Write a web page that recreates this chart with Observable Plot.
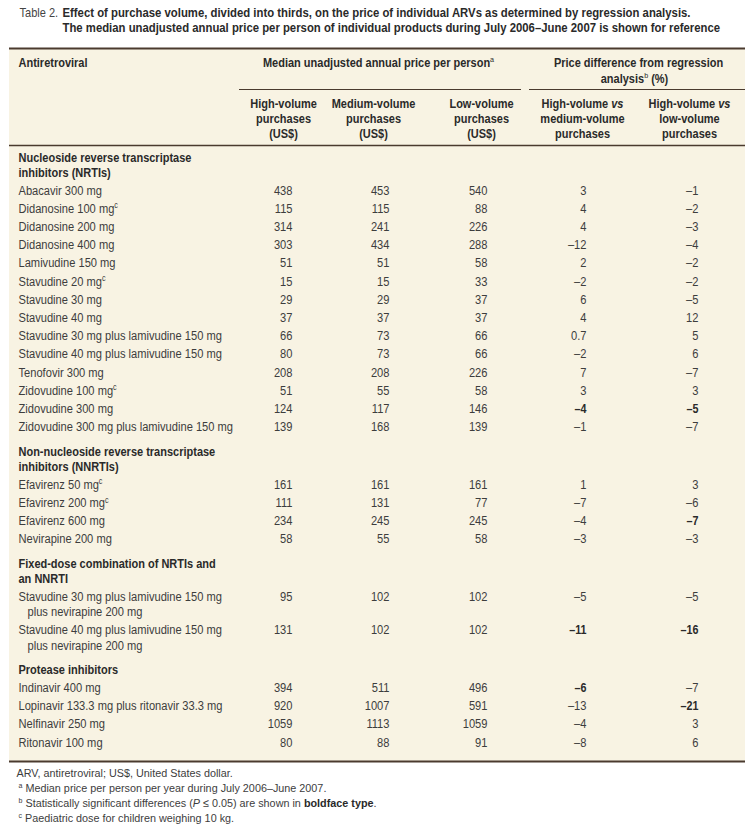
<!DOCTYPE html>
<html>
<head>
<meta charset="utf-8">
<script src="https://cdn.jsdelivr.net/npm/d3@7"></script>
<script src="https://cdn.jsdelivr.net/npm/@observablehq/plot@0.6"></script>
<style>
  html, body { margin: 0; padding: 0; background: #ffffff; }
  svg { display: block; }
</style>
</head>
<body>
<div id="chart"></div>
<script>
// ---------------- DATA ----------------
const tableLabel = "Table 2.";
const titleLines = [
  "Effect of purchase volume, divided into thirds, on the price of individual ARVs as determined by regression analysis.",
  "The median unadjusted annual price per person of individual products during July 2006\u2013June 2007 is shown for reference"
];
const stubHeader = "Antiretroviral";
const groupHeaders = [
  ["Median unadjusted annual price per person^a"],
  ["Price difference from regression", "analysis^b (%)"]
];
const columnHeaders = [
  ["High-volume", "purchases", "(US$)"],
  ["Medium-volume", "purchases", "(US$)"],
  ["Low-volume", "purchases", "(US$)"],
  ["High-volume _vs_", "medium-volume", "purchases"],
  ["High-volume _vs_", "low-volume", "purchases"]
];
const sectionTitles = [
  ["Nucleoside reverse transcriptase", "inhibitors (NRTIs)"],
  ["Non-nucleoside reverse transcriptase", "inhibitors (NNRTIs)"],
  ["Fixed-dose combination of NRTIs and", "an NNRTI"],
  ["Protease inhibitors"]
];
const drugSection = [0,0,0,0,0,0,0,0,0,0,0,0,0,0, 1,1,1,1, 2,2, 3,3,3,3];
const drugNames = [
  ["Abacavir 300 mg"],
  ["Didanosine 100 mg^c"],
  ["Didanosine 200 mg"],
  ["Didanosine 400 mg"],
  ["Lamivudine 150 mg"],
  ["Stavudine 20 mg^c"],
  ["Stavudine 30 mg"],
  ["Stavudine 40 mg"],
  ["Stavudine 30 mg plus lamivudine 150 mg"],
  ["Stavudine 40 mg plus lamivudine 150 mg"],
  ["Tenofovir 300 mg"],
  ["Zidovudine 100 mg^c"],
  ["Zidovudine 300 mg"],
  ["Zidovudine 300 mg plus lamivudine 150 mg"],
  ["Efavirenz 50 mg^c"],
  ["Efavirenz 200 mg^c"],
  ["Efavirenz 600 mg"],
  ["Nevirapine 200 mg"],
  ["Stavudine 30 mg plus lamivudine 150 mg", "plus nevirapine 200 mg"],
  ["Stavudine 40 mg plus lamivudine 150 mg", "plus nevirapine 200 mg"],
  ["Indinavir 400 mg"],
  ["Lopinavir 133.3 mg plus ritonavir 33.3 mg"],
  ["Nelfinavir 250 mg"],
  ["Ritonavir 100 mg"]
];
const highVolumePrice   = [438,115,314,303,51,15,29,37,66,80,208,51,124,139, 161,111,234,58, 95,131, 394,920,1059,80];
const mediumVolumePrice = [453,115,241,434,51,15,29,37,73,73,208,55,117,168, 161,131,245,55, 102,102, 511,1007,1113,88];
const lowVolumePrice    = [540,88,226,288,58,33,37,37,66,66,226,58,146,139, 161,77,245,58, 102,102, 496,591,1059,91];
const diffVsMedium      = [3,4,4,-12,2,-2,6,4,0.7,-2,7,3,-4,-1, 1,-7,-4,-3, -5,-11, -6,-13,-4,-8];
const diffVsLow         = [-1,-2,-3,-4,-2,-2,-5,12,5,6,-7,3,-5,-7, 3,-6,-7,-3, -5,-16, -7,-21,3,6];
const sigVsMedium       = [0,0,0,0,0,0,0,0,0,0,0,0,1,0, 0,0,0,0, 0,1, 1,0,0,0];
const sigVsLow          = [0,0,0,0,0,0,0,0,0,0,0,0,1,0, 0,0,1,0, 0,1, 0,1,0,0];
const notes = [
  "ARV, antiretroviral; US$, United States dollar.",
  "^a Median price per person per year during July 2006\u2013June 2007.",
  "^b Statistically significant differences (_P_ \u2264 0.05) are shown in **boldface type**.",
  "^c Paediatric dose for children weighing 10 kg."
];

// ---------------- LAYOUT ----------------
const L = {
  width: 752, height: 830,
  tableLeft: 9, tableRight: 745, tableTop: 48, tableBottom: 761,
  labelX: 18, wrapIndent: 9,
  valueRight: [292, 389, 487, 586, 698],
  headCenter: [283, 373, 481, 582, 689],
  groupCenter: [[378], [638, 634]],
  groupRules: [[239, 521], [529, 745]],
  groupTitleY: 62, groupLineStep: 16, groupRuleY: 89,
  headY: 103, headLineStep: 15, headRuleY: 145,
  firstSectionY: 157, rowStep: 18.2, lineStep: 15.5, sectionGap: 24.5, titleToRow: 17.5,
  tableLabelX: 19, titleX: 62, titleY: [12, 27.5],
  noteX: [16, 18, 18, 18], noteY: [773, 788, 803, 818]
};
const FONT = "'Liberation Sans', Arial, Helvetica, sans-serif";
const C = { text: "#3d3d3d", bold: "#2a2a2a", cream: "#f8f3e3", rule: "#4a3a2e" };
// sx = horizontal condensing of the glyphs (the original uses a condensed face)
const S = {
  label:   { textAnchor: "start",  fontWeight: "normal", fontSize: 12.5, fill: C.text, sx: 0.89 },
  value:   { textAnchor: "end",    fontWeight: "normal", fontSize: 12.5, fill: C.text, sx: 0.89 },
  valueB:  { textAnchor: "end",    fontWeight: "bold",   fontSize: 12.5, fill: C.bold, sx: 0.86 },
  section: { textAnchor: "start",  fontWeight: "bold",   fontSize: 12.5, fill: C.bold, sx: 0.88 },
  head:    { textAnchor: "middle", fontWeight: "bold",   fontSize: 12.5, fill: C.bold, sx: 0.88 },
  tlabel:  { textAnchor: "start",  fontWeight: "normal", fontSize: 13,   fill: "#444", sx: 0.85 },
  title:   { textAnchor: "start",  fontWeight: "bold",   fontSize: 13,   fill: C.bold, sx: 0.873 },
  note:    { textAnchor: "start",  fontWeight: "normal", fontSize: 11.5, fill: C.text, sx: 0.94 }
};

const fmt = v => (v < 0 ? "\u2013" + Math.abs(v) : String(v));

// ---------------- CELLS ----------------
const cells = [];
const add = (x, y, text, style) => cells.push({x, y, text, style});

add(L.tableLabelX, L.titleY[0], tableLabel, "tlabel");
titleLines.forEach((t, i) => add(L.titleX, L.titleY[i], t, "title"));
add(L.labelX, L.groupTitleY, stubHeader, "section");
groupHeaders.forEach((lines, g) => lines.forEach((t, i) =>
  add(L.groupCenter[g][i], L.groupTitleY + i * L.groupLineStep, t, "head")));
columnHeaders.forEach((lines, c) => lines.forEach((t, i) =>
  add(L.headCenter[c], L.headY + i * L.headLineStep, t, "head")));

let last = null;
sectionTitles.forEach((title, s) => {
  let y = s === 0 ? L.firstSectionY : last + L.sectionGap;
  title.forEach((t) => { add(L.labelX, y, t, "section"); last = y; y += L.lineStep; });
  let first = true;
  drugNames.forEach((name, d) => {
    if (drugSection[d] !== s) return;
    const ry = first ? last + L.titleToRow : last + L.rowStep;
    first = false;
    name.forEach((t, i) => { add(L.labelX + (i ? L.wrapIndent : 0), ry + i * L.lineStep, t, "label"); last = ry + i * L.lineStep; });
    const vals = [highVolumePrice[d], mediumVolumePrice[d], lowVolumePrice[d], diffVsMedium[d], diffVsLow[d]];
    const sig = [0, 0, 0, sigVsMedium[d], sigVsLow[d]];
    vals.forEach((v, c) => add(L.valueRight[c], ry, fmt(v), sig[c] ? "valueB" : "value"));
  });
});
notes.forEach((t, i) => add(L.noteX[i], L.noteY[i], t, "note"));

const rules = [
  {x1: L.tableLeft, x2: L.tableRight, y: L.tableTop, w: 2},
  {x1: L.groupRules[0][0], x2: L.groupRules[0][1], y: L.groupRuleY, w: 1.2},
  {x1: L.groupRules[1][0], x2: L.groupRules[1][1], y: L.groupRuleY, w: 1.2},
  {x1: L.tableLeft, x2: L.tableRight, y: L.headRuleY, w: 1.6},
  {x1: L.tableLeft, x2: L.tableRight, y: L.tableBottom, w: 2}
];

// ---------------- PLOT ----------------
const styleKeys = Object.keys(S);
const textMarks = styleKeys.map(key => {
  const {sx, ...st} = S[key];
  return Plot.text(cells.filter(d => d.style === key), {
    x: "x", y: "y", text: "text", lineAnchor: "middle", fontFamily: FONT, ariaLabel: "text-" + key, ...st
  });
});

const chart = Plot.plot({
  width: L.width, height: L.height,
  margin: 0,
  x: {type: "linear", domain: [0, L.width], range: [0, L.width], axis: null},
  y: {type: "linear", domain: [0, L.height], range: [0, L.height], axis: null},
  style: {background: "#ffffff", fontFamily: FONT},
  marks: [
    Plot.rect([{x1: L.tableLeft, x2: L.tableRight, y1: L.tableTop, y2: L.tableBottom}],
      {x1: "x1", x2: "x2", y1: "y1", y2: "y2", fill: C.cream}),
    ...rules.map(r => Plot.ruleY([r], {y: "y", x1: "x1", x2: "x2", stroke: C.rule, strokeWidth: r.w})),
    ...textMarks
  ]
});

// condense glyphs horizontally around each text's anchor point
const textGroups = chart.querySelectorAll('g[aria-label^="text"]');
textGroups.forEach((g, i) => {
  const sx = S[styleKeys[i]].sx;
  g.querySelectorAll("text").forEach(t => {
    t.setAttribute("transform", (t.getAttribute("transform") || "") + ` scale(${sx},1)`);
  });
});

// rich text: ^x superscript, _italic_, **bold**
function richify(svg) {
  const NS = "http://www.w3.org/2000/svg";
  svg.querySelectorAll("text").forEach(t => {
    const s = t.textContent;
    if (!/\^[a-z]|_[^_]+_|\*\*/.test(s)) return;
    const parts = s.split(/(\^[a-z]|_[^_]+_|\*\*[^*]+\*\*)/).filter(p => p !== "");
    while (t.firstChild) t.removeChild(t.firstChild);
    for (const p of parts) {
      const ts = document.createElementNS(NS, "tspan");
      if (p[0] === "^") {
        ts.textContent = p.slice(1);
        ts.setAttribute("font-size", "65%");
        ts.setAttribute("baseline-shift", "super");
        ts.setAttribute("font-weight", "normal");
      } else if (p.startsWith("**")) {
        ts.textContent = p.slice(2, -2);
        ts.setAttribute("font-weight", "bold");
        ts.setAttribute("fill", C.bold);
      } else if (p[0] === "_" && p.endsWith("_") && p.length > 2) {
        ts.textContent = p.slice(1, -1);
        ts.setAttribute("font-style", "italic");
      } else {
        ts.textContent = p;
      }
      t.appendChild(ts);
    }
  });
}
richify(chart);
document.getElementById("chart").appendChild(chart);
</script>
</body>
</html>
